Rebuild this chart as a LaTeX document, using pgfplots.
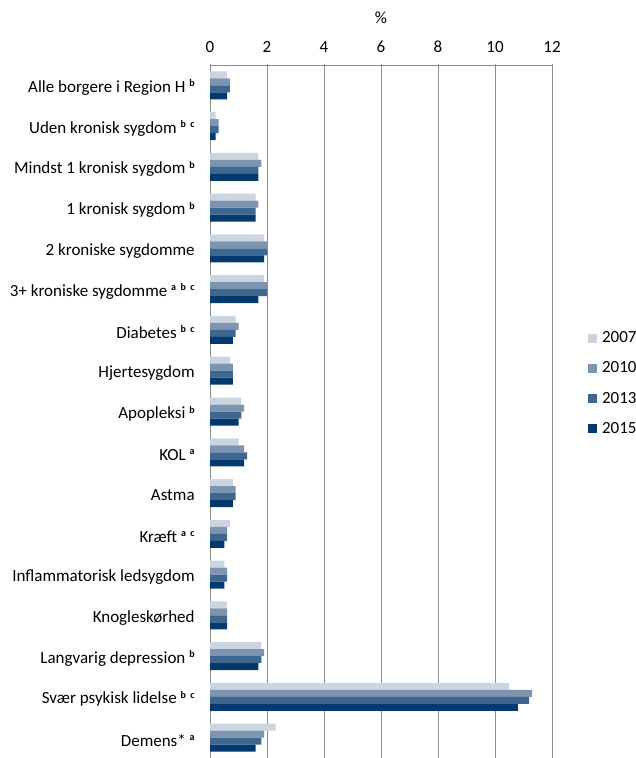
\documentclass[border=0pt]{standalone}
\usepackage{pgfplots}
\pgfplotsset{compat=1.18}
\usepackage{fontspec}
\setmainfont{Carlito}
\definecolor{cA}{RGB}{203,213,225}
\definecolor{cB}{RGB}{124,148,175}
\definecolor{cC}{RGB}{62,103,143}
\definecolor{cD}{RGB}{3,57,108}
\definecolor{gridc}{RGB}{140,140,140}
\newcommand{\sups}[1]{\smash{\raisebox{5.5pt}{\fontsize{10pt}{10pt}\selectfont\bfseries #1}}}
\newcommand{\gap}{\hspace{4.5pt}}
\begin{document}
\fontsize{17pt}{20pt}\selectfont
\begin{tikzpicture}[x=1pt,y=1pt]
\path[use as bounding box] (0,0) rectangle (636,758);
\begin{axis}[
  at={(210pt,693pt)}, anchor=north west,
  width=342pt, height=693pt, scale only axis,
  xbar, bar width=7pt,
  xmin=0, xmax=12, xtick={0,2,...,12},
  ymin=-0.5, ymax=16.5, y dir=reverse,
  ytick={0,...,16},
  yticklabels={
    Alle borgere i Region H \sups{b},
    Uden kronisk sygdom \sups{b\gap c},
    Mindst 1 kronisk sygdom \sups{b},
    1 kronisk sygdom \sups{b},
    2 kroniske sygdomme,
    3+ kroniske sygdomme \sups{a\gap b\gap c},
    Diabetes \sups{b\gap c},
    Hjertesygdom,
    Apopleksi \sups{b},
    KOL \sups{a},
    Astma,
    Kræft \sups{a\gap c},
    Inflammatorisk ledsygdom,
    Knogleskørhed,
    Langvarig depression \sups{b},
    Svær psykisk lidelse \sups{b\gap c},
    Demens* \sups{a}},
  minor ytick={-0.5,0.5,...,16.5},
  minor tick length=5pt, major tick length=3pt,
  tick align=outside,
  ytick style={draw=none},
  minor y tick style={gridc},
  xtick style={gridc},
  axis x line=top, axis y line=left,
  axis line style={gridc, -},
  xmajorgrids, grid style={gridc, line width=0.6pt},
  xlabel={\%},
  xlabel style={yshift=6pt},
  xticklabel style={yshift=5pt},
  ticklabel style={font=\fontsize{17pt}{20pt}\selectfont},
  label style={font=\fontsize{17pt}{20pt}\selectfont},
  yticklabel style={xshift=-8pt, yshift=-2.5pt},
  /pgf/number format/assume math mode=true,
  legend style={at={(axis description cs:1.105,0.54)}, anchor=west, draw=none, fill=none,
    inner sep=0pt, row sep=12.5pt, font=\fontsize{17pt}{20pt}\selectfont},
  legend cell align=left,
  legend image code/.code={\fill[#1] (0pt,-4.5pt) rectangle (9pt,4.5pt); \path (12pt,0pt);},
]
\addplot[fill=cA, draw=none, bar shift=10.5pt] coordinates {
(0.6,0) (0.2,1) (1.7,2) (1.6,3) (1.9,4) (1.9,5) (0.9,6) (0.7,7) (1.1,8) (1.0,9) (0.8,10) (0.7,11) (0.5,12) (0.6,13) (1.8,14) (10.5,15) (2.3,16)};
\addplot[fill=cB, draw=none, bar shift=3.5pt] coordinates {
(0.7,0) (0.3,1) (1.8,2) (1.7,3) (2.0,4) (2.0,5) (1.0,6) (0.8,7) (1.2,8) (1.2,9) (0.9,10) (0.6,11) (0.6,12) (0.6,13) (1.9,14) (11.3,15) (1.9,16)};
\addplot[fill=cC, draw=none, bar shift=-3.5pt] coordinates {
(0.7,0) (0.3,1) (1.7,2) (1.6,3) (2.0,4) (2.0,5) (0.9,6) (0.8,7) (1.1,8) (1.3,9) (0.9,10) (0.6,11) (0.6,12) (0.6,13) (1.8,14) (11.2,15) (1.8,16)};
\addplot[fill=cD, draw=none, bar shift=-10.5pt] coordinates {
(0.6,0) (0.2,1) (1.7,2) (1.6,3) (1.9,4) (1.7,5) (0.8,6) (0.8,7) (1.0,8) (1.2,9) (0.8,10) (0.5,11) (0.5,12) (0.6,13) (1.7,14) (10.8,15) (1.6,16)};
\legend{2007,2010,2013,2015}
\end{axis}
\end{tikzpicture}
\end{document}
